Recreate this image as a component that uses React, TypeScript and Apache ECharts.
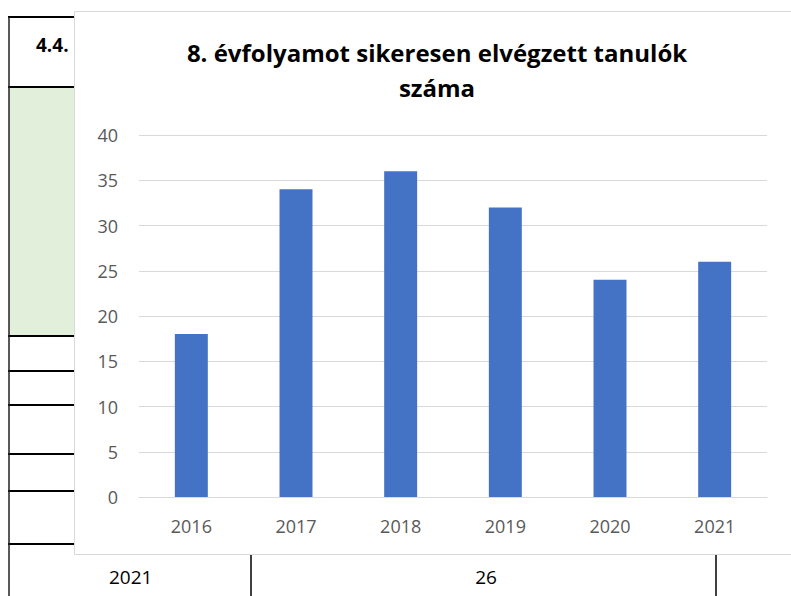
import React, { useEffect, useRef } from "react";
import * as echarts from "echarts";

const categories = ["2016", "2017", "2018", "2019", "2020", "2021"];
const values = [18, 34, 36, 32, 24, 26];
const titleLines = ["8. évfolyamot sikeresen elvégzett tanulók", "száma"];
const tableHeader = "4.4.";
const tableRowYear = "2021";
const tableRowValue = "26";

const FONT = "'Open Sans', 'Noto Sans', sans-serif";

export default function App() {
  const ref = useRef<HTMLDivElement>(null);
  useEffect(() => {
    if (!ref.current) return;
    const chart = echarts.init(ref.current, null, { renderer: "svg" });
    const black = "#000000";
    const hLine = (y: number) => ({
      type: "line",
      z: 0,
      shape: { x1: 8, y1: y, x2: 74, y2: y },
      style: { stroke: black, lineWidth: 2 },
    });
    chart.setOption({
      animation: false,
      backgroundColor: "#ffffff",
      graphic: {
        elements: [
          { type: "rect", z: 0, shape: { x: 9, y: 87, width: 65, height: 249 }, style: { fill: "#e2efda" } },
          hLine(17),
          hLine(87),
          hLine(336),
          hLine(371),
          hLine(405),
          hLine(454),
          hLine(491),
          hLine(544),
          { type: "line", z: 0, shape: { x1: 9, y1: 17, x2: 9, y2: 596 }, style: { stroke: "#222", lineWidth: 1.5 } },
          { type: "line", z: 0, shape: { x1: 251, y1: 555, x2: 251, y2: 596 }, style: { stroke: black, lineWidth: 1.5 } },
          { type: "line", z: 0, shape: { x1: 716, y1: 555, x2: 716, y2: 596 }, style: { stroke: black, lineWidth: 1.5 } },
          {
            type: "text", z: 0, x: 36, y: 45,
            style: { text: tableHeader, font: `bold 19px ${FONT}`, fill: black, textAlign: "left", textVerticalAlign: "middle" },
          },
          {
            type: "text", z: 0, x: 109, y: 577,
            style: { text: tableRowYear, font: `19px ${FONT}`, fill: black, textAlign: "left", textVerticalAlign: "middle" },
          },
          {
            type: "text", z: 0, x: 486, y: 577,
            style: { text: tableRowValue, font: `19px ${FONT}`, fill: black, textAlign: "center", textVerticalAlign: "middle" },
          },
          {
            type: "rect", z: 1,
            shape: { x: 74.5, y: 11.5, width: 740, height: 543 },
            style: { fill: "#ffffff", stroke: "#d9d9d9", lineWidth: 1 },
          },
          {
            type: "text", z: 1, x: 437, y: 52,
            style: { text: titleLines[0], font: `bold 24px ${FONT}`, fill: black, textAlign: "center", textVerticalAlign: "middle" },
          },
          {
            type: "text", z: 1, x: 437, y: 87,
            style: { text: titleLines[1], font: `bold 24px ${FONT}`, fill: black, textAlign: "center", textVerticalAlign: "middle" },
          },
        ],
      },
      grid: { left: 139, right: 24, top: 135, bottom: 99, containLabel: false },
      xAxis: {
        type: "category",
        data: categories,
        z: 3,
        axisLine: { show: true, lineStyle: { color: "#d9d9d9", width: 1 } },
        axisTick: { show: false },
        axisLabel: { color: "#595959", fontSize: 18, fontFamily: FONT, margin: 20 },
      },
      yAxis: {
        type: "value",
        min: 0,
        max: 40,
        interval: 5,
        z: 3,
        axisLine: { show: false },
        axisTick: { show: false },
        splitLine: { show: true, lineStyle: { color: "#d9d9d9", width: 1 } },
        axisLabel: { color: "#595959", fontSize: 18, fontFamily: FONT, margin: 21 },
      },
      series: [
        {
          type: "bar",
          z: 5,
          data: values,
          barWidth: "31.5%",
          itemStyle: { color: "#4472c4" },
        },
      ],
    });
    return () => chart.dispose();
  }, []);
  return (
    <div
      ref={ref}
      style={{ position: "absolute", left: 0, top: 0, width: 791, height: 596 }}
    />
  );
}
